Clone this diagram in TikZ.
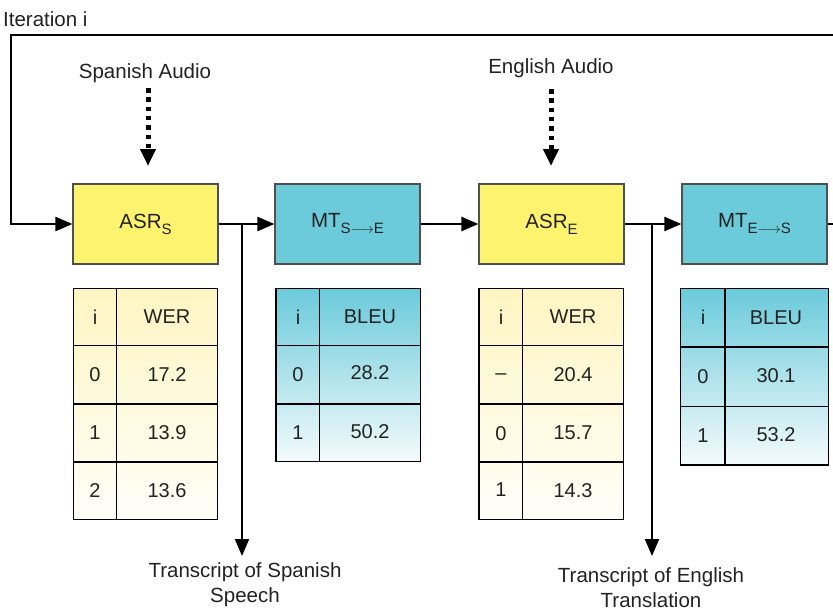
\documentclass[tikz,border=0pt]{standalone}
\usepackage{fontspec}
\setmainfont{Liberation Sans}
\usetikzlibrary{arrows.meta}
\definecolor{yBox}{HTML}{FEF36F}
\definecolor{cBox}{HTML}{6BCBDB}
\definecolor{yTop}{HTML}{FEF5C2}
\definecolor{yBot}{HTML}{FFFEF8}
\definecolor{cTop}{HTML}{6ACADB}
\definecolor{cBot}{HTML}{F4FBFC}
\definecolor{txt}{HTML}{222222}
\definecolor{edge}{HTML}{505050}
\newcommand{\subarrow}[2]{\raisebox{-6pt}{\fontsize{15}{15}\selectfont #1$\longrightarrow$#2}}
\newcommand{\subtxt}[1]{\raisebox{-6pt}{\fontsize{15}{15}\selectfont #1}}
\begin{document}
\begin{tikzpicture}[x=1pt,y=-1pt,
  lbl/.style={font=\fontsize{20.5}{25}\selectfont, text=txt, inner sep=0pt, align=center},
  cell/.style={font=\fontsize{20}{24}\selectfont, text=txt, inner sep=0pt},
  blk/.style={draw=edge, line width=1.2pt, minimum width=145pt, minimum height=80pt, inner sep=0pt, font=\fontsize{20.5}{24}\selectfont, text=txt},
  conn/.style={line width=2.4pt, black},
  arr/.style={-{Triangle[length=17pt,width=14pt]}},
  dotarr/.style={line width=5pt, dash pattern=on 4.5pt off 4.8pt, -{Triangle[length=17pt,width=15pt]}},
  tab/.style={draw=black, line width=1.2pt}]
\useasboundingbox (0,0) rectangle (833,613);

% title
\node[lbl, anchor=west] (iter) at (3,19) {Iteration i};

% blocks
\node[blk, fill=yBox] (asrS) at (145.5,224) {ASR\subtxt{S}};
\node[blk, fill=cBox] (mtSE) at (347.5,224) {MT\subarrow{S}{E}};
\node[blk, fill=yBox] (asrE) at (551.5,224) {ASR\subtxt{E}};
\node[blk, fill=cBox] (mtES) at (754.5,224) {MT\subarrow{E}{S}};

% audio inputs
\node[lbl] (spa) at (145,73) {Spanish Audio};
\node[lbl] (eng) at (551,68) {English Audio};
\coordinate (spaTop) at (148,88);
\coordinate (spaTip) at (148,166);
\coordinate (engTop) at (551,89);
\coordinate (engTip) at (551,166);
\draw[dotarr] (spaTop) -- (spaTip);
\draw[dotarr] (engTop) -- (engTip);

% feedback loop
\coordinate (loopTR) at (833,35);
\coordinate (loopL) at (11,35);
\coordinate (outR) at (833,224);
\draw[conn, arr, line join=miter] (loopTR) -- (loopL) |- (asrS.west);
\draw[conn] (mtES.east) -- (outR);

% chain arrows
\draw[conn, arr] (asrS.east) -- (mtSE.west);
\draw[conn, arr] (mtSE.east) -- (asrE.west);
\draw[conn, arr] (asrE.east) -- (mtES.west);

% branches
\coordinate (bS) at (242,224);
\coordinate (tipS) at (242,556);
\coordinate (bE) at (652,224);
\coordinate (tipE) at (652,556);
\draw[line width=2pt, arr] (bS) -- (tipS);
\draw[line width=2pt, arr] (bE) -- (tipE);
\node[lbl, anchor=north] (trS) at (245,562) {Transcript of Spanish\\Speech};
\node[lbl, anchor=north] (trE) at (651,567) {Transcript of English\\Translation};

% table 1 (ASR_S)
\shade[top color=yTop, bottom color=yBot] (73.3,288.3) rectangle (217.3,519.3);
\draw[tab] (73.3,288.3) rectangle (217.3,519.3);
\draw[tab] (116.3,288.3) -- (116.3,519.3);
\foreach \yy in {345.7,404,462} \draw[tab] (73.3,\yy) -- (217.3,\yy);
\node[cell] (a1) at (95,317) {i};
\node[cell] (a2) at (167,317) {WER};
\node[cell] (a3) at (95,375) {0};
\node[cell] (a4) at (167,375) {17.2};
\node[cell] (a5) at (95,433) {1};
\node[cell] (a6) at (167,433) {13.9};
\node[cell] (a7) at (95,491) {2};
\node[cell] (a8) at (167,491) {13.6};

% table 2 (MT_S->E)
\shade[top color=cTop, bottom color=cBot] (276,288.3) rectangle (420.3,461.7);
\draw[tab] (276,288.3) rectangle (420.3,461.7);
\draw[tab] (319.3,288.3) -- (319.3,461.7);
\foreach \yy in {345.7,404} \draw[tab] (276,\yy) -- (420.3,\yy);
\node[cell] (b1) at (298,317) {i};
\node[cell] (b2) at (370,317) {BLEU};
\node[cell] (b3) at (298,375) {0};
\node[cell] (b4) at (370,373) {28.2};
\node[cell] (b5) at (298,433) {1};
\node[cell] (b6) at (370,432) {50.2};

% table 3 (ASR_E)
\shade[top color=yTop, bottom color=yBot] (479,288.3) rectangle (623.7,519.3);
\draw[tab] (479,288.3) rectangle (623.7,519.3);
\draw[tab] (522.3,288.3) -- (522.3,519.3);
\foreach \yy in {345.7,404,462} \draw[tab] (479,\yy) -- (623.7,\yy);
\node[cell] (c1) at (501,317) {i};
\node[cell] (c2) at (573,317) {WER};
\node[cell] (c3) at (501,377) {–};
\node[cell] (c4) at (573,375) {20.4};
\node[cell] (c5) at (501,434) {0};
\node[cell] (c6) at (573,433) {15.7};
\node[cell] (c7) at (501,490) {1};
\node[cell] (c8) at (573,491) {14.3};

% table 4 (MT_E->S)
\shade[top color=cTop, bottom color=cBot] (680.7,288.3) rectangle (828.3,465);
\draw[tab] (680.7,288.3) rectangle (828.3,465);
\draw[tab] (725,288.3) -- (725,465);
\foreach \yy in {347,406.7} \draw[tab] (680.7,\yy) -- (828.3,\yy);
\node[cell] (d1) at (703,317) {i};
\node[cell] (d2) at (776,318) {BLEU};
\node[cell] (d3) at (703,377) {0};
\node[cell] (d4) at (776,376) {30.1};
\node[cell] (d5) at (703,436) {1};
\node[cell] (d6) at (776,435) {53.2};
\end{tikzpicture}
\end{document}
